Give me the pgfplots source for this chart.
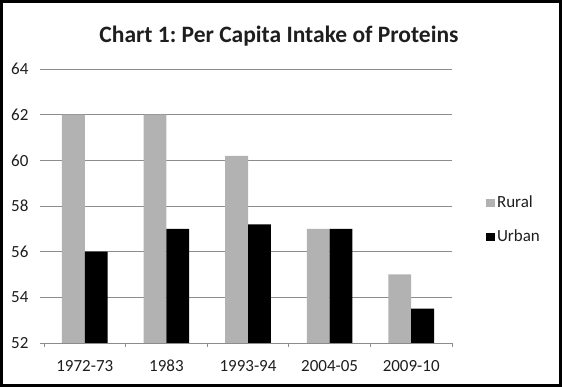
\documentclass[border=0pt]{standalone}
\usepackage{pgfplots}
\pgfplotsset{compat=1.18}
\usepackage{fontspec}
\setmainfont{Carlito}[Numbers=Lining]
\frenchspacing
\definecolor{rural}{RGB}{178,178,178}
\definecolor{gridc}{RGB}{140,140,140}
\definecolor{txt}{RGB}{30,30,30}
\begin{document}
\begin{tikzpicture}[x=1pt,y=1pt]
\draw[line width=3pt] (1.5,1.5) rectangle (560.5,385.5);
\node[font=\fontsize{23.5}{28}\selectfont\bfseries, text=txt] at (279,351) {Chart 1: Per Capita Intake of Proteins};
\begin{axis}[
  at={(44pt,44pt)}, anchor=south west, scale only axis,
  width=408pt, height=274pt,
  xmin=-0.5, xmax=4.5, ymin=52, ymax=64,
  ytick={52,54,...,64},
  xtick={-0.5,0.5,1.5,2.5,3.5,4.5}, xticklabels={},
  extra x ticks={0,1,2,3,4},
  extra x tick labels={1972-73,1983,1993-94,2004-05,2009-10},
  extra x tick style={major tick length=0pt,
    xticklabel style={anchor=base, yshift=-29pt}},
  axis x line*=bottom, axis y line*=left,
  y axis line style={draw=none},
  x axis line style={gridc, line width=0.8pt},
  tick align=outside, major tick length=4pt,
  tick style={gridc, line width=0.8pt},
  ymajorgrids, grid style={gridc, line width=0.8pt},
  tick label style={font=\fontsize{17}{20}\selectfont, text=txt},
  yticklabel style={xshift=-8pt},
  /pgf/number format/assume math mode=true,
  ybar, bar width=0.28,
  legend style={at={(1.083,0.545)}, anchor=north west, draw=none, fill=none,
    inner sep=0pt, row sep=17pt, font=\fontsize{17}{20}\selectfont, text=txt,
    /tikz/every even column/.append style={column sep=3pt}},
  legend cell align=left,
  legend image code/.code={\fill[#1] (0pt,-4pt) rectangle (9pt,4pt);},
]
\addplot[draw=none, fill=rural, bar shift=-0.14] coordinates {(0,62) (1,62) (2,60.2) (3,57) (4,55)};
\addplot[draw=none, fill=black, bar shift=0.14] coordinates {(0,56) (1,57) (2,57.2) (3,57) (4,53.5)};
\legend{Rural,Urban}
\end{axis}
\end{tikzpicture}
\end{document}
